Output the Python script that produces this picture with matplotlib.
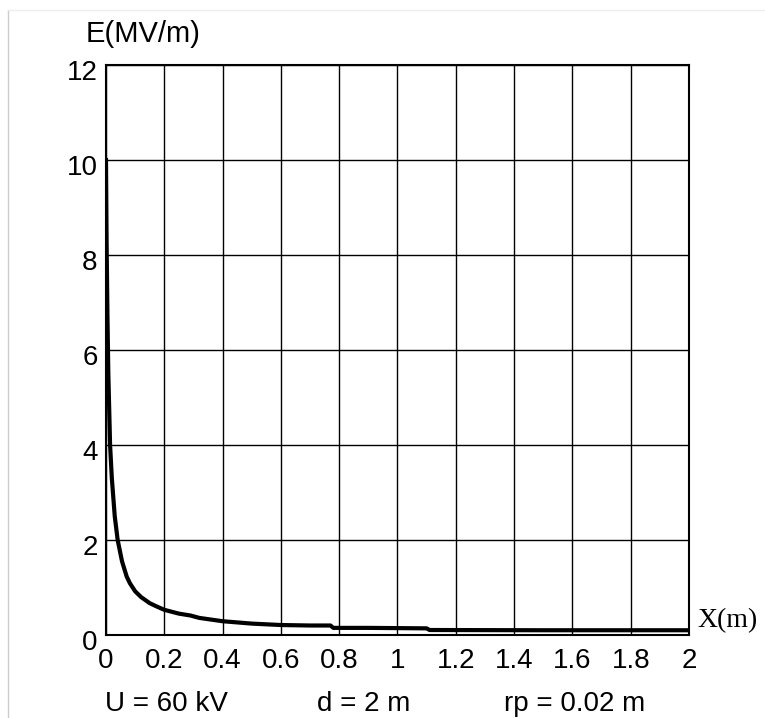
import matplotlib
matplotlib.use("Agg")
import matplotlib.pyplot as plt
from matplotlib.lines import Line2D
import matplotlib.transforms as mtransforms

# Data
x_vals = [0, 0.002, 0.005, 0.008, 0.01, 0.014, 0.02, 0.03, 0.04, 0.055, 0.071,
          0.082, 0.1, 0.12, 0.15, 0.174, 0.2, 0.25, 0.29, 0.32, 0.4, 0.5, 0.6,
          0.7, 0.77, 0.78, 0.9, 1.1, 1.11, 1.5, 2.0]
e_vals = [10, 8.3, 6.7, 5.5, 5.0, 4.0, 3.3, 2.5, 2.0, 1.55, 1.23,
          1.09, 0.92, 0.8, 0.67, 0.6, 0.53, 0.45, 0.41, 0.36, 0.29, 0.24, 0.21,
          0.2, 0.2, 0.15, 0.15, 0.14, 0.105, 0.1, 0.1]
x_ticks = [0, 0.2, 0.4, 0.6, 0.8, 1.0, 1.2, 1.4, 1.6, 1.8, 2.0]
x_tick_labels = ["0", "0.2", "0.4", "0.6", "0.8", "1", "1.2", "1.4", "1.6", "1.8", "2"]
y_ticks = [0, 2, 4, 6, 8, 10, 12]
y_tick_labels = ["0", "2", "4", "6", "8", "10", "12"]
y_label = "E(MV/m)"
x_label = "X(m)"
notes = ["U = 60 kV", "d = 2 m", "rp = 0.02 m"]

W, H = 765, 718
fig = plt.figure(figsize=(W / 100, H / 100), dpi=100)
fig.patch.set_facecolor("white")

def fx(px):
    return px / W

def fy(py):
    return 1 - py / H

ax = fig.add_axes([fx(106), fy(635), fx(689) - fx(106), fy(65) - fy(635)])
ax.plot(x_vals, e_vals, color="black", lw=3.0, solid_joinstyle="round")
ax.set_xlim(0, 2)
ax.set_ylim(0, 12)
ax.set_xticks(x_ticks)
ax.set_xticklabels(x_tick_labels, family="Liberation Sans", fontsize=20)
ax.set_yticks(y_ticks)
ax.set_yticklabels(y_tick_labels, family="Liberation Sans", fontsize=20)
ax.tick_params(axis="both", length=0)
ax.tick_params(axis="x", pad=9)
ax.tick_params(axis="y", pad=6)
ax.grid(True, color="black", lw=1.0)
ax.set_axisbelow(True)
for s in ax.spines.values():
    s.set_color("black")
    s.set_linewidth(1.5)

# shift y tick labels slightly down
offset = mtransforms.ScaledTranslation(0, -5 / 100, fig.dpi_scale_trans)
for lbl in ax.get_yticklabels():
    lbl.set_transform(lbl.get_transform() + offset)

fig.text(fx(86), fy(42), y_label, family="Liberation Sans", fontsize=21,
         ha="left", va="baseline")
fig.text(fx(697), fy(627), x_label, family="Liberation Serif", fontsize=20,
         ha="left", va="baseline")
for txt, px in zip(notes, [105, 317, 504]):
    fig.text(fx(px), fy(711), txt, family="Liberation Sans", fontsize=20,
             ha="left", va="baseline")

# light frame lines
fig.add_artist(Line2D([fx(7.5), fx(7.5)], [fy(10), 0], color="#cccccc", lw=1.0))
fig.add_artist(Line2D([fx(7.5), 1], [fy(10), fy(10)], color="#eeeeee", lw=1.0))

fig.savefig("out.png", dpi=100)
